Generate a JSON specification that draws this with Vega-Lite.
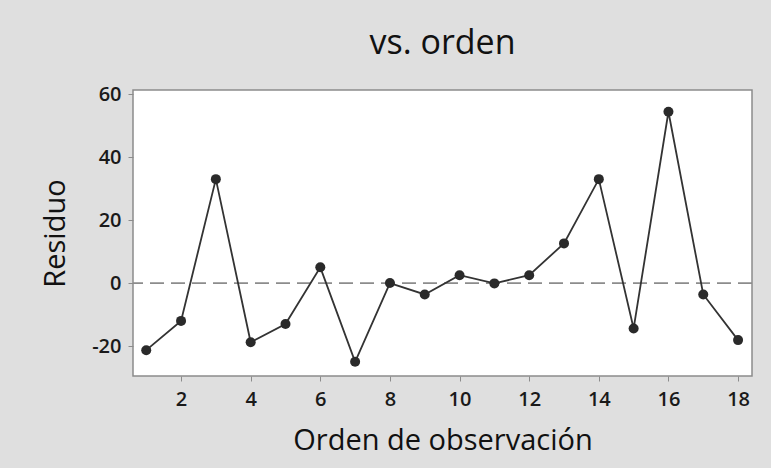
{
  "$schema": "https://vega.github.io/schema/vega-lite/v6.json",
  "width": 619,
  "height": 286,
  "autosize": {"type": "none"},
  "padding": {"left": 133, "top": 90, "right": 19, "bottom": 92},
  "background": "#dfdfdf",
  "title": {
    "text": "vs. orden",
    "font": "Open Sans",
    "fontSize": 34,
    "fontWeight": "normal",
    "color": "#111111",
    "anchor": "middle",
    "offset": 23
  },
  "config": {
    "view": {"fill": "white", "stroke": "#8c8c8c", "strokeWidth": 1.5},
    "axis": {
      "labelFont": "Open Sans",
      "titleFont": "Open Sans",
      "labelFontSize": 20,
      "titleFontSize": 29,
      "labelFontWeight": 600,
      "titleFontWeight": "normal",
      "labelColor": "#1a1a1a",
      "titleColor": "#111111",
      "grid": false,
      "domain": false,
      "tickColor": "#8c8c8c",
      "tickSize": 5
    }
  },
  "data": {
    "values": [
      {"orden": 1, "residuo": -21.3},
      {"orden": 2, "residuo": -12.0},
      {"orden": 3, "residuo": 33.0},
      {"orden": 4, "residuo": -18.8},
      {"orden": 5, "residuo": -13.0},
      {"orden": 6, "residuo": 5.0},
      {"orden": 7, "residuo": -25.0},
      {"orden": 8, "residuo": 0.0},
      {"orden": 9, "residuo": -3.6},
      {"orden": 10, "residuo": 2.5},
      {"orden": 11, "residuo": -0.1},
      {"orden": 12, "residuo": 2.5},
      {"orden": 13, "residuo": 12.6},
      {"orden": 14, "residuo": 33.0},
      {"orden": 15, "residuo": -14.4},
      {"orden": 16, "residuo": 54.4},
      {"orden": 17, "residuo": -3.6},
      {"orden": 18, "residuo": -18.1}
    ]
  },
  "encoding": {
    "x": {
      "field": "orden",
      "type": "quantitative",
      "scale": {"domain": [0.62, 18.4], "nice": false, "zero": false},
      "axis": {"title": "Orden de observación", "values": [2, 4, 6, 8, 10, 12, 14, 16, 18], "labelPadding": 8, "titlePadding": 17, "labelFlush": false}
    },
    "y": {
      "field": "residuo",
      "type": "quantitative",
      "scale": {"domain": [-29.5, 61.3], "nice": false, "zero": false},
      "axis": {"title": "Residuo", "values": [-20, 0, 20, 40, 60], "labelPadding": 7, "titlePadding": 21, "labelFlush": false, "labelExpr": "replace(datum.label, '−', '-')"}
    }
  },
  "layer": [
    {
      "data": {"values": [{"ref": 0}]},
      "mark": {"type": "rule", "color": "#8c8c8c", "strokeWidth": 1.8, "strokeDash": [14, 7]},
      "encoding": {"y": {"field": "ref", "type": "quantitative"}, "x": null}
    },
    {
      "mark": {"type": "line", "color": "#333333", "strokeWidth": 1.8}
    },
    {
      "mark": {"type": "point", "filled": true, "shape": "circle", "size": 100, "color": "#2a2a2a", "opacity": 1}
    }
  ]
}
